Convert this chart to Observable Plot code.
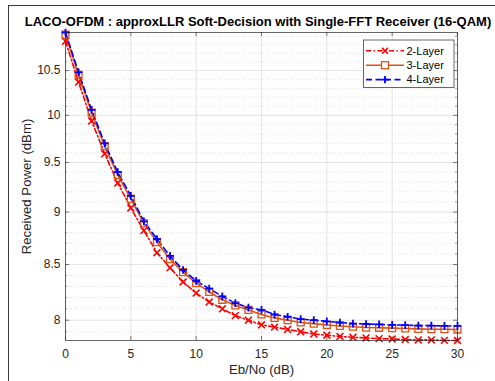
<!DOCTYPE html>
<html>
<head>
<meta charset="utf-8">
<script src="https://cdn.jsdelivr.net/npm/d3@7"></script>
<script src="https://cdn.jsdelivr.net/npm/@observablehq/plot@0.6"></script>
<style>
  html, body { margin: 0; padding: 0; background: #fff; overflow: hidden; }
  #wrap { position: relative; width: 495px; height: 381px; font-family: "Liberation Sans", Arial, sans-serif; }
  #border { position: absolute; left: 8px; top: 5px; width: 600px; height: 600px; border-left: 1.5px solid #3a3a3a; border-top: 1.5px solid #3a3a3a; pointer-events: none; }
  #title { position: absolute; left: 0; top: 13.5px; width: 516px; text-align: center; white-space: nowrap; font-weight: bold; font-size: 13px; color: #000; line-height: 15px; }
  #chart { position: absolute; left: 0; top: 0; }
</style>
</head>
<body>
<div id="wrap">
  <div id="chart"></div>
  <div id="border"></div>
  <div id="title">LACO-OFDM : approxLLR Soft-Decision with Single-FFT Receiver (16-QAM)</div>
</div>
<script>
// ---- data ----
const ebno = d3.range(0, 31); // 0..30 dB
const layer2 = [10.84, 10.37, 9.94, 9.59, 9.29, 9.04, 8.82, 8.61, 8.47, 8.34,
                8.24, 8.16, 8.10, 8.04, 8.00, 7.96, 7.94, 7.92, 7.90, 7.88,
                7.87, 7.86, 7.852, 7.847, 7.841, 7.838, 7.833, 7.830, 7.830, 7.826, 7.825];
const layer3 = [10.92, 10.45, 10.03, 9.67, 9.37, 9.13, 8.89, 8.71, 8.55, 8.43,
                8.33, 8.25, 8.18, 8.13, 8.09, 8.05, 8.02, 8.00, 7.98, 7.97,
                7.958, 7.950, 7.943, 7.936, 7.934, 7.931, 7.928, 7.925, 7.922, 7.922, 7.919];
const layer4 = [10.945, 10.48, 10.06, 9.70, 9.40, 9.16, 8.91, 8.74, 8.58, 8.45,
                8.35, 8.28, 8.21, 8.15, 8.11, 8.09, 8.05, 8.03, 8.01, 8.00,
                7.99, 7.98, 7.97, 7.967, 7.963, 7.960, 7.957, 7.953, 7.953, 7.950, 7.950];
const seriesNames = ["2-Layer", "3-Layer", "4-Layer"];
const xTicks = [0, 5, 10, 15, 20, 25, 30];
const yTicks = [8, 8.5, 9, 9.5, 10, 10.5];
const yTickLabels = ["8", "8.5", "9", "9.5", "10", "10.5"];
const yMinor = [7.9, 8.1, 8.2, 8.3, 8.4, 8.6, 8.7, 8.8, 8.9, 9.1, 9.2, 9.3, 9.4,
                9.6, 9.7, 9.8, 9.9, 10.1, 10.2, 10.3, 10.4, 10.6, 10.7, 10.8, 10.9];

const colors = {"2-Layer": "#ff0000", "3-Layer": "#D95319", "4-Layer": "#0000ff"};
const dashes = {"2-Layer": "5,2.5,1.5,2.5", "3-Layer": null, "4-Layer": "6,3.5"};

const rows = [];
[layer2, layer3, layer4].forEach((arr, i) => {
  arr.forEach((v, j) => rows.push({series: seriesNames[i], x: ebno[j], y: v}));
});
const bySeries = s => rows.filter(d => d.series === s);
const yLabelRows = yTicks.map((v, i) => ({y: v, label: yTickLabels[i]}));

const W = 495, H = 381;
const mL = 65, mR = 38, mT = 32, mB = 41;
const pw = W - mL - mR, ph = H - mT - mB;
const axisColor = "#262626";
const fontFamily = "'Liberation Sans', Arial, sans-serif";

const marks = [
  Plot.ruleY(yMinor, {y: d => d, stroke: "#cdcdcd", strokeDasharray: "1,2", strokeWidth: 0.6}),
  Plot.ruleY(yTicks, {y: d => d, stroke: "#dcdcdc", strokeWidth: 0.8}),
  Plot.ruleX(xTicks, {x: d => d, stroke: "#dcdcdc", strokeWidth: 0.8}),
  // inward tick marks
  Plot.tickY(yTicks, {y: d => d, stroke: axisColor, strokeWidth: 0.6, insetRight: pw - 4}),
  Plot.tickY(yTicks, {y: d => d, stroke: axisColor, strokeWidth: 0.6, insetLeft: pw - 4}),
  Plot.tickY(yMinor, {y: d => d, stroke: "#555", strokeWidth: 0.5, insetRight: pw - 2}),
  Plot.tickY(yMinor, {y: d => d, stroke: "#555", strokeWidth: 0.5, insetLeft: pw - 2}),
  Plot.tickX(xTicks, {x: d => d, stroke: axisColor, strokeWidth: 0.6, insetTop: ph - 4}),
  Plot.tickX(xTicks, {x: d => d, stroke: axisColor, strokeWidth: 0.6, insetBottom: ph - 4}),
];

for (const s of seriesNames) {
  marks.push(Plot.line(bySeries(s), {x: "x", y: "y", stroke: colors[s], strokeWidth: 1.6,
    strokeDasharray: dashes[s]}));
}
marks.push(Plot.dot(bySeries("2-Layer"), {x: "x", y: "y", symbol: "times", r: 3.2, stroke: colors["2-Layer"], strokeWidth: 1.6}));
marks.push(Plot.dot(bySeries("3-Layer"), {x: "x", y: "y", symbol: "square", r: 3.9, fill: "none", stroke: colors["3-Layer"], strokeWidth: 1.3}));
marks.push(Plot.dot(bySeries("4-Layer"), {x: "x", y: "y", symbol: "plus", r: 2.6, stroke: colors["4-Layer"], strokeWidth: 1.8}));

marks.push(Plot.frame({stroke: axisColor, strokeWidth: 0.7}));
// y tick labels (text mark, avoids log-scale label thinning)
marks.push(Plot.text(yLabelRows, {y: "y", text: "label", frameAnchor: "left", dx: -5, textAnchor: "end",
  fontSize: 12, fill: axisColor}));
// y axis title only
marks.push(Plot.axisY([], {anchor: "left", tickSize: 0, label: "Received Power (dBm)",
  labelAnchor: "center", labelArrow: "none", labelOffset: 44}));
marks.push(Plot.axisX(xTicks, {anchor: "bottom", tickSize: 0, tickPadding: 9, tickFormat: d => String(d),
  fontSize: 12, color: axisColor, label: "Eb/No (dB)", labelAnchor: "center", labelArrow: "none", labelOffset: 33}));

const chart = Plot.plot({
  width: W, height: H,
  marginLeft: mL, marginRight: mR, marginTop: mT, marginBottom: mB,
  style: {fontFamily, fontSize: "12px", background: "white", color: axisColor, overflow: "visible"},
  x: {domain: [0, 30]},
  y: {type: "log", domain: [7.825, 10.945]},
  marks
});

// enlarge axis title font
d3.select(chart).selectAll("g[aria-label='y-axis label'] text, g[aria-label='x-axis label'] text")
  .style("font-size", "13.2px").attr("fill", axisColor);

// ---- legend ----
const svg = d3.select(chart);
const lg = svg.append("g").attr("font-family", fontFamily).attr("font-size", "11px").attr("text-anchor", "start");
const lx = 363.5, ly = 40, lw = 90.5, lh = 47.5;
lg.append("rect").attr("x", lx).attr("y", ly).attr("width", lw).attr("height", lh)
  .attr("fill", "white").attr("stroke", axisColor).attr("stroke-width", 0.7);
const rowY = [50.8, 65.2, 79.6];
seriesNames.forEach((s, i) => {
  const y = rowY[i];
  lg.append("line").attr("x1", 366).attr("x2", 404).attr("y1", y).attr("y2", y)
    .attr("stroke", colors[s]).attr("stroke-width", 1.6)
    .attr("stroke-dasharray", dashes[s]);
  const cx = 385;
  if (s === "2-Layer") {
    const r = 2.9;
    lg.append("path").attr("d", `M${cx-r},${y-r}L${cx+r},${y+r}M${cx-r},${y+r}L${cx+r},${y-r}`)
      .attr("stroke", colors[s]).attr("stroke-width", 1.6).attr("fill", "none");
  } else if (s === "3-Layer") {
    lg.append("rect").attr("x", cx - 3.5).attr("y", y - 3.5).attr("width", 7).attr("height", 7)
      .attr("fill", "white").attr("stroke", colors[s]).attr("stroke-width", 1.3);
  } else {
    const r = 3.6;
    lg.append("path").attr("d", `M${cx-r},${y}L${cx+r},${y}M${cx},${y-r}L${cx},${y+r}`)
      .attr("stroke", colors[s]).attr("stroke-width", 1.8).attr("fill", "none");
  }
  lg.append("text").attr("x", 406.5).attr("y", y).attr("dy", "0.35em").attr("fill", "#000")
    .attr("text-anchor", "start").text(s);
});

document.getElementById("chart").appendChild(chart);
</script>
</body>
</html>
